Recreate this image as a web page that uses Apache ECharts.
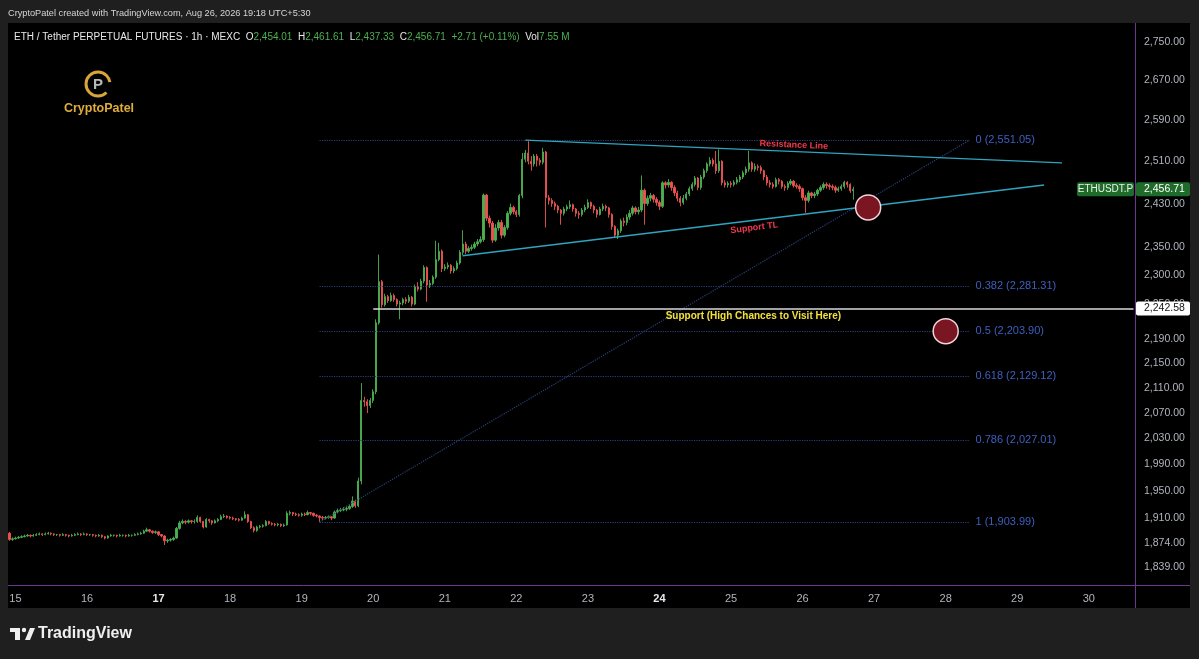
<!DOCTYPE html>
<html><head><meta charset="utf-8">
<script src="https://cdn.jsdelivr.net/npm/echarts@6/dist/echarts.min.js"></script>
<style>html,body{margin:0;padding:0;background:#1f1f1f;}#c{width:1199px;height:659px;}</style>
</head><body><div id="c"></div>
<script>
// ---------- data ----------
const firstOpen = 1888;
const closes = [
1879,1880,1881,1882,1883,1884,1885,1884,1885,1886,
1887,1886,1887,1888,1887,1886,1886,1885,1886,1885,
1884,1885,1886,1887,1886,1887,1886,1886,1885,1884,
1885,1883,1881,1884,1885,1885,1884,1885,1885,1884,
1885,1885,1886,1887,1888,1891,1893,1891,1889,1890,
1886,1884,1877,1878,1879,1881,1895,1903,1905,1904,
1906,1905,1905,1911,1905,1897,1908,1906,1903,1906,
1908,1912,1913,1911,1910,1909,1908,1907,1910,1915,
1905,1896,1892,1897,1898,1899,1905,1902,1901,1900,
1901,1899,1900,1917,1918,1916,1915,1914,1916,1915,
1918,1917,1914,1913,1911,1910,1911,1912,1910,1919,
1921,1922,1923,1924,1927,1935,1928,1965,2090,2088,
2082,2090,2104,2218,2289,2249,2263,2256,2265,2258,
2250,2252,2258,2255,2262,2250,2280,2276,2290,2314,
2283,2286,2297,2328,2343,2312,2315,2318,2308,2312,
2322,2341,2356,2343,2348,2350,2356,2360,2364,2446,
2403,2394,2363,2385,2395,2372,2386,2412,2423,2415,
2410,2445,2514,2526,2510,2505,2520,2512,2508,2528,
2441,2436,2430,2425,2418,2412,2420,2424,2428,2420,
2412,2410,2418,2423,2432,2425,2418,2410,2420,2425,
2422,2410,2388,2372,2380,2398,2395,2405,2412,2422,
2415,2418,2455,2430,2440,2445,2438,2432,2425,2469,
2465,2470,2460,2450,2440,2432,2440,2448,2458,2466,
2478,2460,2480,2492,2505,2512,2505,2492,2510,2469,
2465,2468,2466,2470,2475,2480,2488,2495,2507,2495,
2500,2498,2492,2480,2469,2466,2462,2475,2472,2462,
2460,2468,2472,2464,2462,2458,2441,2436,2450,2445,
2448,2455,2460,2466,2464,2462,2460,2455,2458,2462,
2470,2466,2454.01,2456.71];
const highs = [
1890,1882,1883,1884,1885,1886,1887,1886,1887,1888,
1889,1888,1889,1890,1889,1888,1887,1887,1888,1887,
1886,1887,1888,1889,1888,1889,1888,1887,1887,1886,
1887,1886,1884,1885,1887,1886,1886,1887,1886,1886,
1887,1886,1888,1889,1890,1893,1896,1894,1892,1892,
1891,1887,1885,1880,1881,1883,1897,1906,1908,1907,
1908,1907,1908,1914,1912,1906,1910,1909,1907,1908,
1910,1915,1916,1914,1913,1912,1910,1910,1912,1920,
1916,1906,1898,1899,1900,1901,1907,1906,1904,1903,
1903,1902,1902,1920,1921,1919,1918,1917,1918,1918,
1921,1919,1918,1916,1914,1913,1913,1914,1913,1921,
1924,1925,1926,1927,1930,1942,1937,1970,2118,2096,
2092,2094,2108,2224,2337,2292,2268,2266,2270,2268,
2260,2256,2261,2262,2266,2264,2284,2288,2294,2318,
2316,2292,2300,2362,2358,2346,2320,2323,2320,2316,
2326,2345,2381,2360,2352,2355,2360,2365,2370,2449,
2448,2408,2398,2392,2400,2400,2390,2416,2430,2426,
2418,2448,2526,2532,2549,2520,2524,2524,2516,2536,
2530,2446,2440,2434,2428,2420,2424,2428,2436,2430,
2422,2416,2422,2428,2438,2434,2428,2420,2424,2430,
2428,2424,2412,2390,2384,2402,2404,2410,2418,2426,
2425,2424,2483,2458,2445,2450,2448,2442,2436,2472,
2472,2476,2472,2464,2454,2444,2446,2452,2462,2470,
2482,2480,2484,2496,2508,2518,2516,2530,2533,2512,
2474,2472,2472,2474,2480,2484,2492,2500,2530,2510,
2506,2504,2502,2494,2484,2474,2470,2479,2478,2474,
2466,2472,2476,2474,2468,2466,2460,2446,2454,2452,
2452,2458,2464,2470,2470,2468,2466,2464,2462,2466,
2473,2472,2468,2461.61];
const lows = [
1877,1877,1879,1880,1881,1882,1883,1882,1883,1884,
1885,1884,1885,1886,1885,1884,1884,1883,1884,1883,
1882,1883,1884,1885,1884,1885,1884,1884,1883,1882,
1883,1881,1879,1880,1883,1883,1882,1883,1883,1882,
1883,1883,1884,1885,1886,1887,1890,1889,1887,1887,
1884,1882,1871,1874,1876,1877,1880,1893,1901,1901,
1902,1902,1902,1903,1903,1895,1896,1903,1900,1902,
1904,1907,1910,1909,1908,1907,1906,1905,1906,1909,
1903,1894,1889,1890,1895,1896,1898,1900,1899,1898,
1898,1897,1897,1899,1914,1913,1913,1912,1912,1913,
1914,1914,1912,1911,1904,1907,1908,1909,1907,1909,
1917,1919,1920,1920,1922,1925,1925,1926,1960,2080,
2070,2078,2086,2100,2215,2244,2246,2252,2254,2254,
2246,2224,2248,2250,2252,2246,2248,2272,2274,2286,
2254,2278,2283,2294,2325,2306,2308,2311,2303,2304,
2309,2319,2336,2338,2340,2344,2347,2352,2357,2360,
2398,2386,2358,2360,2380,2366,2368,2382,2408,2410,
2405,2406,2440,2508,2504,2492,2500,2500,2502,2504,
2386,2428,2424,2418,2412,2391,2408,2416,2420,2415,
2406,2402,2406,2414,2420,2420,2412,2404,2408,2416,
2416,2404,2382,2367,2365,2376,2388,2390,2400,2408,
2410,2410,2414,2391,2426,2434,2432,2426,2418,2422,
2458,2460,2454,2444,2434,2425,2428,2436,2444,2454,
2462,2455,2456,2476,2488,2500,2500,2486,2488,2464,
2460,2460,2460,2462,2466,2470,2476,2484,2490,2490,
2490,2492,2486,2474,2464,2460,2458,2460,2466,2458,
2454,2456,2464,2460,2458,2452,2436,2413,2432,2440,
2440,2444,2452,2456,2458,2456,2455,2450,2452,2454,
2458,2460,2450,2437.33];
const dayLabels = ['14','15','16','17','18','19','20','21','22','23','24','25','26','27','28','29','30'];
const boldDays = ['17','24'];
const priceTicks = [1839,1874,1910,1950,1990,2030,2070,2110,2150,2190,2250,2300,2350,2430,2510,2590,2670,2750];
const fibNames = ['0','0.382','0.5','0.618','0.786','1'];
const fibPrices = [2551.05,2281.31,2203.90,2129.12,2027.01,1903.99];
const fibStartIdx = 104, fibEndIdx = 322;
const resistanceIdx = [173, 353], resistancePrice = [2551, 2507];
const supportTLIdx = [152, 347], supportTLPrice = [2335, 2465];
const supportLevel = 2242.58, supportStartIdx = 122, supportEndIdx = 377;
const circleIdx = [288, 314], circlePrice = [2423, 2203.9];
const lastPrice = 2456.71;
const ohlcText = {o:'2,454.01', h:'2,461.61', l:'2,437.33', c:'2,456.71', chg:'+2.71 (+0.11%)', vol:'7.55 M'};

// ---------- build ----------
const UP = '#4caf50', DOWN = '#ef5350';
const startHour = 22, nCats = 378;
const categories = [];
for (let k = 0; k < nCats; k++) {
  const t = startHour + k;
  categories.push(dayLabels[Math.floor(t / 24)] + ' ' + String(t % 24).padStart(2, '0') + ':00');
}
const cat = i => categories[i];
const candles = closes.map((c, i) => [i === 0 ? firstOpen : closes[i - 1], c, lows[i], highs[i]]);
const fmt = v => Number(v).toLocaleString('en-US', {minimumFractionDigits: 2, maximumFractionDigits: 2});

const chart = echarts.init(document.getElementById('c'), null, {width: 1199, height: 659});
const FONT = '"Liberation Sans", Arial, sans-serif';

const fibLines = fibPrices.map((p, i) => [
  {coord: [cat(fibStartIdx), p], label: {formatter: fibNames[i] + ' (' + fmt(p) + ')'}},
  {coord: [cat(fibEndIdx), p]}
]);

chart.setOption({
  animation: false,
  backgroundColor: '#1f1f1f',
  grid: {left: 8, right: 64, top: 23, bottom: 74},
  xAxis: {
    type: 'category', data: categories, boundaryGap: true,
    axisLine: {show: false}, axisTick: {show: false}, splitLine: {show: false},
    axisLabel: {
      interval: (i, v) => v.endsWith(' 00:00'),
      formatter: v => { const d = v.split(' ')[0]; return boldDays.includes(d) ? '{b|' + d + '}' : d; },
      color: '#b2b5be', fontSize: 11, fontFamily: FONT, margin: 8,
      rich: {b: {color: '#e6e8ee', fontWeight: 'bold', fontSize: 11, fontFamily: FONT}}
    }
  },
  yAxis: {
    type: 'log', logBase: 10, min: 1814.6, max: 2790.4, position: 'right',
    axisLine: {show: false}, axisTick: {show: false}, splitLine: {show: false},
    axisLabel: {customValues: priceTicks, formatter: v => fmt(v), color: '#b2b5be', fontSize: 10.5, fontFamily: FONT, margin: 9}
  },
  series: [
    {
      type: 'candlestick', data: candles, barWidth: 1.8,
      itemStyle: {color: UP, color0: DOWN, borderColor: UP, borderColor0: DOWN, borderWidth: 0.9},
      z: 3
    },
    {
      type: 'line', data: [], z: 4, silent: true,
      markLine: {
        silent: true, symbol: ['none', 'none'], animation: false,
        lineStyle: {type: 'dotted', color: '#2a3f7c', width: 1.2},
        label: {show: true, position: 'end', distance: 6, color: '#3e5fc0', fontSize: 11, fontFamily: FONT},
        data: [
          ...fibLines,
          [{coord: [cat(fibStartIdx), fibPrices[5]], label: {show: false}}, {coord: [cat(fibEndIdx), fibPrices[0]]}],
          [{coord: [cat(resistanceIdx[0]), resistancePrice[0]], lineStyle: {type: 'solid', color: '#2ea5c0', width: 1.4},
            label: {show: true, position: 'insideMiddleTop', formatter: 'Resistance Line', color: '#f0394d', fontSize: 9, fontWeight: 'bold', distance: 2}},
           {coord: [cat(resistanceIdx[1]), resistancePrice[1]]}],
          [{coord: [cat(supportTLIdx[0]), supportTLPrice[0]], lineStyle: {type: 'solid', color: '#2ea5c0', width: 1.4},
            label: {show: true, position: 'insideMiddleBottom', formatter: 'Support TL', color: '#f0394d', fontSize: 9, fontWeight: 'bold', distance: 3}},
           {coord: [cat(supportTLIdx[1]), supportTLPrice[1]]}],
          [{coord: [cat(supportStartIdx), supportLevel], lineStyle: {type: 'solid', color: '#d8d8d8', width: 1.5},
            label: {show: true, position: 'insideMiddleBottom', formatter: 'Support (High Chances to Visit Here)', color: '#f3e03b', fontSize: 10, fontWeight: 'bold', distance: 3}},
           {coord: [cat(supportEndIdx), supportLevel]}]
        ]
      }
    },
    {
      type: 'scatter', z: 5, silent: true, symbolSize: 25,
      data: circleIdx.map((x, i) => [cat(x), circlePrice[i]]),
      itemStyle: {color: '#7a1522', borderColor: '#f2d6da', borderWidth: 1.5, opacity: 1}
    }
  ]
});

const yLast = chart.convertToPixel({yAxisIndex: 0}, lastPrice);
const ySup = chart.convertToPixel({yAxisIndex: 0}, supportLevel);

const g = [];
g.push({type: 'rect', z: -100, shape: {x: 8, y: 23, width: 1182, height: 585}, style: {fill: '#000'}, silent: true});
g.push({type: 'line', z: 10, shape: {x1: 1135.5, y1: 23, x2: 1135.5, y2: 608}, style: {stroke: '#6f3591', lineWidth: 1}});
g.push({type: 'line', z: 10, shape: {x1: 8, y1: 585.5, x2: 1190, y2: 585.5}, style: {stroke: '#6f3591', lineWidth: 1}});
g.push({type: 'text', z: 10, x: 8, y: 13, style: {text: 'CryptoPatel created with TradingView.com, Aug 26, 2026 19:18 UTC+5:30', fill: '#d6d6d6', font: '9.2px ' + FONT, verticalAlign: 'middle'}});
g.push({type: 'text', z: 10, x: 14, y: 37, style: {
  text: '{w|ETH / Tether PERPETUAL FUTURES · 1h · MEXC  O}{g|' + ohlcText.o + '}{w|  H}{g|' + ohlcText.h + '}{w|  L}{g|' + ohlcText.l + '}{w|  C}{g|' + ohlcText.c + '}{g|  ' + ohlcText.chg + '}{w|  Vol}{g|' + ohlcText.vol + '}',
  font: '10px ' + FONT, verticalAlign: 'middle',
  rich: {w: {fill: '#e8e8e8', font: '10px ' + FONT}, g: {fill: UP, font: '10px ' + FONT}}
}});
// CryptoPatel logo
g.push({type: 'arc', z: 10, shape: {cx: 98, cy: 84, r: 12, startAngle: Math.PI * 0.25, endAngle: Math.PI * 1.95}, style: {stroke: '#d9a53a', lineWidth: 3, fill: null}});
g.push({type: 'text', z: 10, x: 98, y: 85, style: {text: 'P', fill: '#b8b8b8', font: 'bold 15px ' + FONT, align: 'center', verticalAlign: 'middle'}});
g.push({type: 'text', z: 10, x: 99, y: 109, style: {text: 'CryptoPatel', fill: '#e0ad3c', font: 'bold 12.5px ' + FONT, align: 'center', verticalAlign: 'middle'}});
// TradingView logo
g.push({type: 'rect', z: 10, shape: {x: 10, y: 628, width: 10, height: 4}, style: {fill: '#f0f0f0'}});
g.push({type: 'rect', z: 10, shape: {x: 15, y: 628, width: 5, height: 12}, style: {fill: '#f0f0f0'}});
g.push({type: 'circle', z: 10, shape: {cx: 24, cy: 630, r: 2.2}, style: {fill: '#f0f0f0'}});
g.push({type: 'polygon', z: 10, shape: {points: [[25, 640], [30, 628], [35, 628], [30, 640]]}, style: {fill: '#f0f0f0'}});
g.push({type: 'text', z: 10, x: 38, y: 634, style: {text: 'TradingView', fill: '#f0f0f0', font: 'bold 16px ' + FONT, verticalAlign: 'middle'}});
// price tags
g.push({type: 'rect', z: 20, shape: {x: 1077, y: yLast - 7, width: 57, height: 14, r: 2}, style: {fill: '#1f6b2a'}});
g.push({type: 'text', z: 21, x: 1105.5, y: yLast, style: {text: 'ETHUSDT.P', fill: '#e8f3e8', font: '10px ' + FONT, align: 'center', verticalAlign: 'middle'}});
g.push({type: 'rect', z: 20, shape: {x: 1136, y: yLast - 7, width: 54, height: 14, r: 2}, style: {fill: '#1f6b2a'}});
g.push({type: 'text', z: 21, x: 1144, y: yLast, style: {text: fmt(lastPrice), fill: '#ffffff', font: '10.5px ' + FONT, verticalAlign: 'middle'}});
g.push({type: 'rect', z: 20, shape: {x: 1136, y: ySup - 7, width: 54, height: 14, r: 2}, style: {fill: '#ffffff'}});
g.push({type: 'text', z: 21, x: 1144, y: ySup, style: {text: fmt(supportLevel), fill: '#111', font: '10.5px ' + FONT, verticalAlign: 'middle'}});

chart.setOption({graphic: {elements: g}});
</script>
</body></html>
